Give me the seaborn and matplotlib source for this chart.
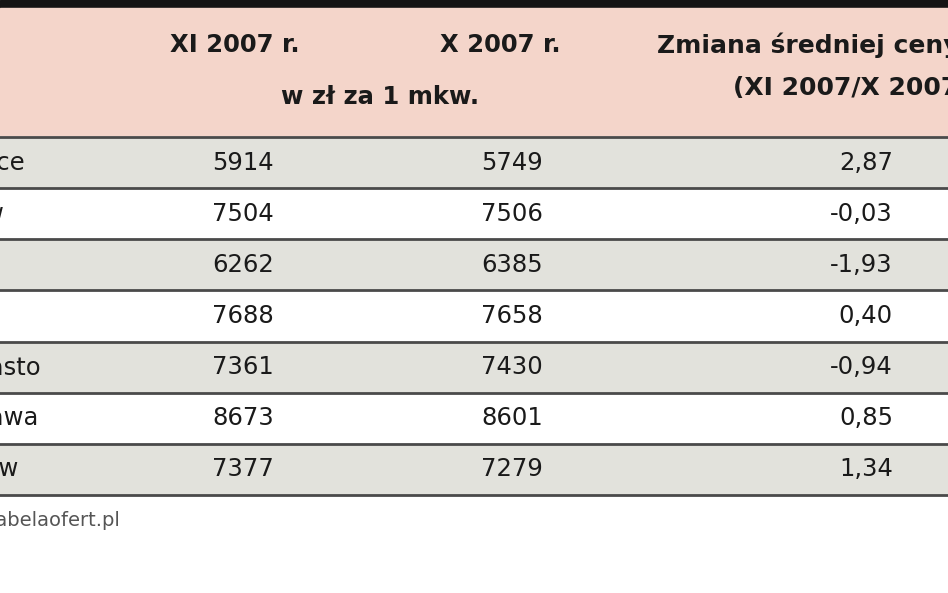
import matplotlib.pyplot as plt
import seaborn as sns
import numpy as np

cities = ["Katowice", "Kraków", "Łódź", "Poznań", "Trójmiasto", "Warszawa", "Wrocław"]
price_xi = [5914, 7504, 6262, 7688, 7361, 8673, 7377]
price_x = [5749, 7506, 6385, 7658, 7430, 8601, 7279]
change = ["2,87", "-0,03", "-1,93", "0,40", "-0,94", "0,85", "1,34"]

W, H = 948, 593
fig = plt.figure(figsize=(W / 100, H / 100), dpi=100)
FONT = ['Liberation Sans Narrow', 'DejaVu Sans Condensed', 'DejaVu Sans']

# rows background via heatmap (alternating grey / white)
top, bottom = 137, 495
hax = fig.add_axes([0, 1 - bottom / H, 1, (bottom - top) / H])
shade = np.array([[i % 2] for i in range(len(cities))])
sns.heatmap(shade, cmap=sns.color_palette(["#e2e2dc", "#ffffff"], as_cmap=True),
            cbar=False, ax=hax, linewidths=0, xticklabels=False, yticklabels=False)
hax.set_axis_off()

# overlay in pixel coordinates
ax = fig.add_axes([0, 0, 1, 1])
ax.set_xlim(0, W)
ax.set_ylim(H, 0)
ax.set_axis_off()
ax.patch.set_alpha(0)

ax.add_patch(plt.Rectangle((0, 0), W, 8, color="#141414"))
ax.add_patch(plt.Rectangle((0, 8), W, 127, color="#f4d5ca"))

row_h = (bottom - top) / len(cities)
for y in [top + i * row_h for i in range(len(cities) + 1)]:
    ax.plot([0, W], [y, y], color="#4a4a4a", lw=2)

kw = dict(fontsize=17.5, family=FONT, color="#1a1a1a", va="center")
hk = dict(kw, fontweight="bold")
ax.text(235, 45, "XI 2007 r.", ha="center", **hk)
ax.text(500, 45, "X 2007 r.", ha="center", **hk)
ax.text(380, 97, "w zł za 1 mkw.", ha="center", **hk)
ax.text(657, 45, "Zmiana średniej ceny (%)", ha="left", **dict(hk, fontsize=18))
ax.text(733, 88, "(XI 2007/X 2007)", ha="left", **dict(hk, fontsize=18))

for i, c in enumerate(cities):
    y = top + (i + 0.5) * row_h
    ax.text(-84, y, c, ha="left", **kw)
    ax.text(243, y, str(price_xi[i]), ha="center", **kw)
    ax.text(512, y, str(price_x[i]), ha="center", **kw)
    ax.text(893, y, change[i], ha="right", **kw)

ax.text(-88, 519, "Źródło: tabelaofert.pl", ha="left", va="center",
        fontsize=14, family=FONT, color="#555555")

fig.savefig("out.png", dpi=100)
